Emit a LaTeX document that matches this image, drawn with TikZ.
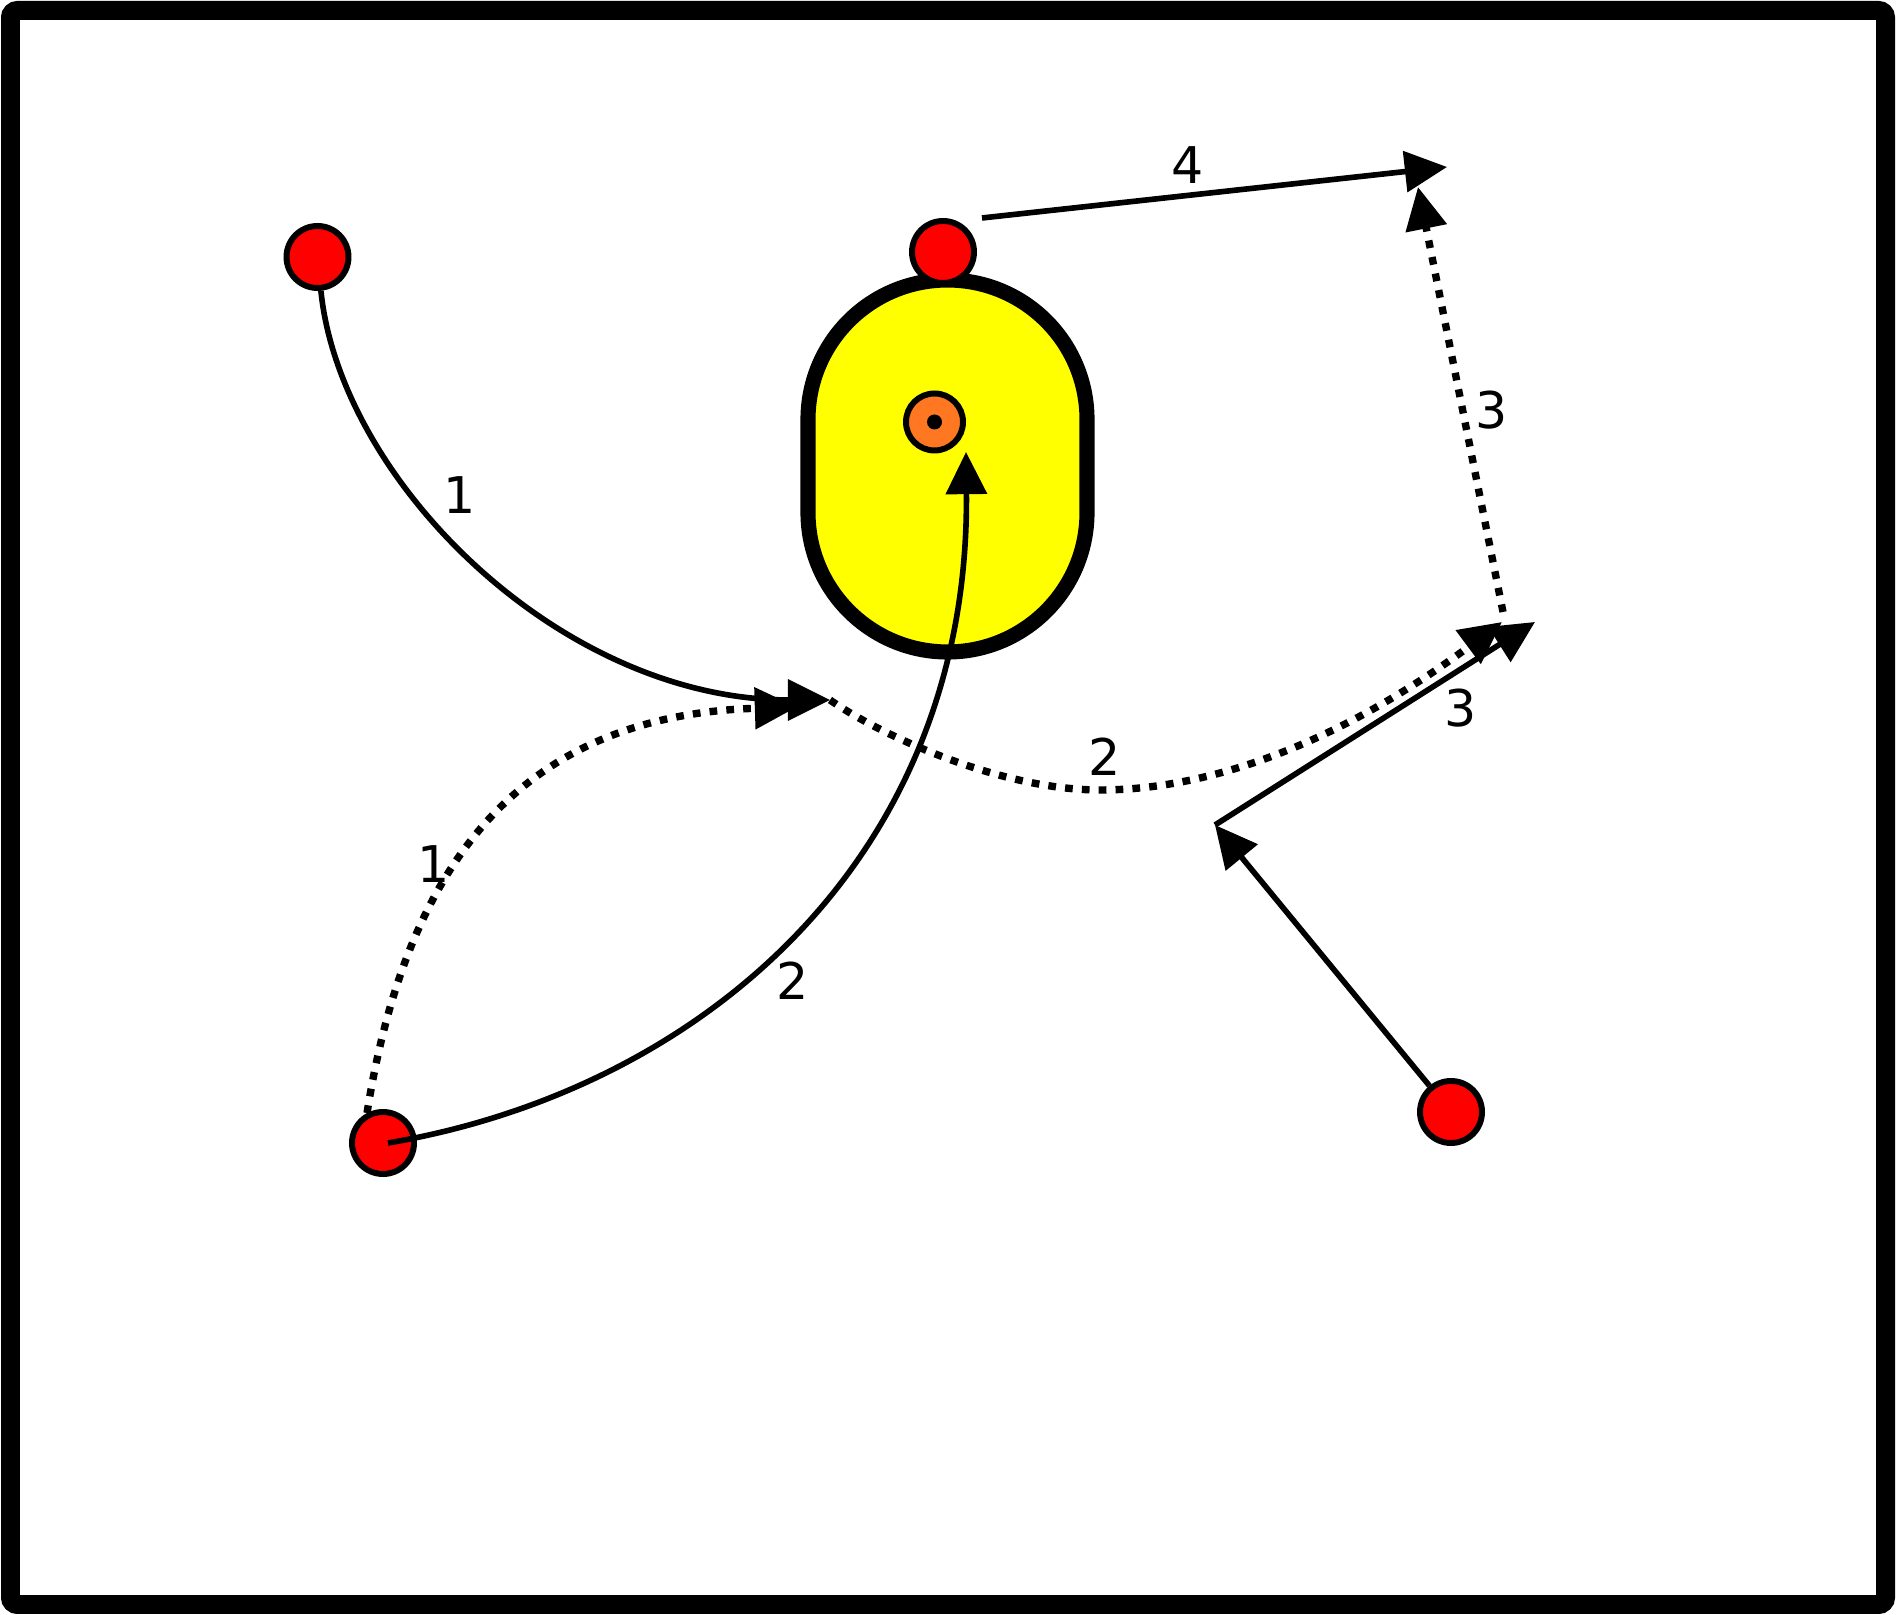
\documentclass[tikz,border=0pt]{standalone}
\usepackage{fontspec}
\setmainfont{DejaVu Sans}
\usetikzlibrary{arrows.meta}
\definecolor{ballorange}{RGB}{255,120,33}
\definecolor{goalyellow}{RGB}{255,255,0}
\definecolor{playerred}{RGB}{255,0,0}

\begin{document}
\begin{tikzpicture}[
    player/.style={circle, fill=playerred, draw=black, line width=1.7pt, minimum size=6.2mm, inner sep=0pt},
    run/.style={line width=1.6pt, -{Triangle[length=12pt,width=11.5pt]}},
    pass/.style={run, dash pattern=on 2.2pt off 2.6pt, line width=2.1pt},
    lbl/.style={font=\fontsize{14.4}{17}\selectfont, inner sep=0pt}
  ]
      \useasboundingbox (0, 0) rectangle (18.96, -16.15);
      \draw [line width=5.4pt, rounded corners=2pt] (0.105, -0.105) rectangle (18.855, -16.045);

      \draw [fill=goalyellow, line width=4.3pt] (8.08, -4.195) arc (180:0:1.395) -- (10.87, -5.125) arc (0:-180:1.395) -- cycle;

      \node [player] (pA) at (3.175, -2.57) {};
      \node [player] (pB) at (9.43, -2.52) {};
      \node [player] (pC) at (3.83, -11.43) {};
      \node [player] (pD) at (14.51, -11.12) {};
      \node [circle, fill=ballorange, draw=black, line width=1.7pt, minimum size=5.7mm, inner sep=0pt] (ball) at (9.345, -4.22) {};
      \fill (ball.center) circle (0.075);

      \coordinate (m1) at (8.30, -7.00);
      \coordinate (m2) at (7.97, -7.07);
      \coordinate (m3) at (11.00, -7.90);
      \coordinate (e2) at (15.02, -6.22);
      \coordinate (t2) at (9.66, -4.52);
      \coordinate (k1) at (12.15, -8.25);
      \coordinate (e3) at (15.35, -6.22);
      \coordinate (d3) at (15.03, -6.12);
      \coordinate (t3) at (14.18, -1.87);
      \coordinate (s4) at (9.82, -2.18);
      \coordinate (t4) at (14.47, -1.67);

      \draw [run] (pA) .. controls (3.40, -4.80) and (5.60, -7.00) .. (m1);
      \draw [pass] (pC.118) .. controls (4.10, -8.40) and (5.40, -7.15) .. (m2);
      \draw [pass] (m1) .. controls (8.80, -7.35) and (10.00, -7.90) .. (m3)
                        .. controls (12.00, -7.90) and (13.30, -7.50) .. (e2);
      \draw [run] ([xshift=0.5mm]pC.center) .. controls (7.00, -10.90) and (9.70, -8.60) .. (t2);
      \draw [run] (pD) -- (k1);
      \draw [run] (k1) -- (e3);
      \draw [pass] (d3) -- (t3);
      \draw [run] (s4) -- (t4);

      \node [lbl] (n1a) at (4.60, -4.95) {1};
      \node [lbl] (n1b) at (4.34, -8.64) {1};
      \node [lbl] (n2a) at (11.05, -7.57) {2};
      \node [lbl] (n2b) at (7.93, -9.81) {2};
      \node [lbl] (n3a) at (14.92, -4.10) {3};
      \node [lbl] (n3b) at (14.61, -7.08) {3};
      \node [lbl] (n4) at (11.88, -1.65) {4};
\end{tikzpicture}
\end{document}
